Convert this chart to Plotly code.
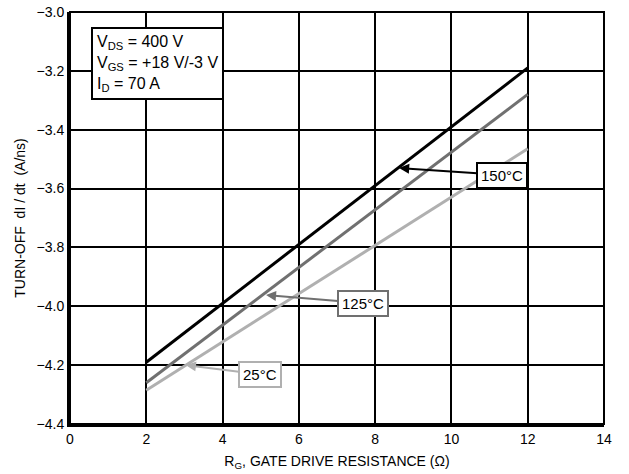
import plotly.graph_objects as go

# Data (lines are straight)
rg = [2, 12]
didt_150 = [-4.19, -3.19]
didt_125 = [-4.26, -3.28]
didt_25 = [-4.285, -3.465]

x_ticks = [0, 2, 4, 6, 8, 10, 12, 14]
y_ticks = [-4.4, -4.2, -4.0, -3.8, -3.6, -3.4, -3.2, -3.0]

FONT = "Liberation Sans, Arial, sans-serif"

fig = go.Figure()
fig.add_trace(go.Scatter(x=rg, y=didt_25, mode="lines", line=dict(color="#b0b0b0", width=3), name="25°C"))
fig.add_trace(go.Scatter(x=rg, y=didt_125, mode="lines", line=dict(color="#707070", width=3), name="125°C"))
fig.add_trace(go.Scatter(x=rg, y=didt_150, mode="lines", line=dict(color="#000000", width=3), name="150°C"))

fig.update_layout(
    width=629, height=474,
    margin=dict(l=70, r=25, t=12, b=50),
    plot_bgcolor="white", paper_bgcolor="white",
    showlegend=False,
    font=dict(family=FONT, size=13, color="black"),
)
fig.update_xaxes(
    range=[0, 14], tickvals=x_ticks, ticktext=[str(v) for v in x_ticks],
    showgrid=True, gridcolor="black", gridwidth=1.5,
    showline=True, linecolor="black", linewidth=3,
    zeroline=False, ticks="", ticklen=0, automargin=False,
    title=dict(text="R<sub>G</sub>, GATE DRIVE RESISTANCE (Ω)", font=dict(size=14), standoff=11),
    tickfont=dict(size=14),
)
fig.update_yaxes(
    range=[-4.4, -3.0], tickvals=y_ticks, ticktext=[f"{v:.1f}".replace("-", "\u2212") for v in y_ticks],
    showgrid=True, gridcolor="black", gridwidth=1.5,
    showline=True, linecolor="black", linewidth=3,
    zeroline=False, ticks="", ticklen=0, automargin=False,
    title=dict(text="TURN-OFF  dI / dt  (A/ns)", font=dict(size=14), standoff=8),
    tickfont=dict(size=14),
)
fig.add_shape(type="rect", xref="paper", yref="paper", x0=0, y0=0, x1=1, y1=1,
              line=dict(color="black", width=2), layer="above")

# Conditions box
fig.add_annotation(
    xref="paper", yref="paper", x=0.04, y=0.963, xanchor="left", yanchor="top",
    text="V<sub>DS</sub> = 400 V<br>V<sub>GS</sub> = +18 V/-3 V<br>I<sub>D</sub> = 70 A",
    align="left", showarrow=False, bgcolor="white",
    bordercolor="black", borderwidth=2, borderpad=4, font=dict(size=16),
)

# Curve labels with arrows
def label(text, x, y, tx, ty, color):
    fig.add_annotation(
        x=tx, y=ty, ax=x, ay=y, xref="x", yref="y", axref="x", ayref="y",
        text=text, showarrow=True, arrowhead=2, arrowsize=1, arrowwidth=2,
        arrowcolor=color, bgcolor="white", bordercolor=color, borderwidth=2,
        borderpad=3, font=dict(size=15),
    )

label("150°C", 11.33, -3.554, 8.63, -3.53, "black")
label("125°C", 7.68, -3.989, 5.14, -3.962, "#707070")
label("25°C", 4.98, -4.231, 3.04, -4.20, "#b0b0b0")

fig.write_html("out.html", config={"displayModeBar": False},
               post_script="document.body.style.margin='0px';")
